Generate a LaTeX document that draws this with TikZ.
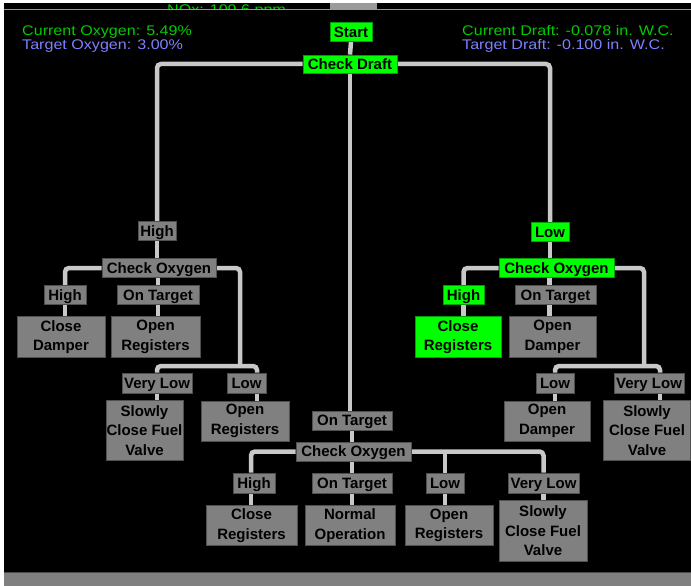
\documentclass[tikz,border=0pt]{standalone}
\usepackage{fontspec}
\setmainfont{Liberation Sans}
\usetikzlibrary{calc,backgrounds}
\definecolor{wirec}{HTML}{C8C8C8}
\definecolor{boxg}{HTML}{808080}
\definecolor{boxe}{HTML}{505050}
\definecolor{hotg}{HTML}{00FF00}
\definecolor{hote}{HTML}{00A000}
\definecolor{readg}{HTML}{00CC00}
\definecolor{readb}{HTML}{8080FF}
\definecolor{iconc}{HTML}{9A9A9A}
\newcommand{\boxfont}{\bfseries\fontsize{15}{19.5}\selectfont}
\newcommand{\readfont}{\fontsize{14}{14}\selectfont}
\newcommand{\wide}[1]{\scalebox{1.15}[1]{#1}}
\tikzset{
  wire/.style={draw=wirec,line width=4.5pt,rounded corners=4pt},
  tag/.style={fill=boxg,draw=boxe,line width=0.8pt,inner sep=0pt,
    text height=10.8pt,text depth=0.5pt,font=\boxfont},
  act/.style={fill=boxg,draw=boxe,line width=0.8pt,inner sep=0pt,
    align=center,font=\boxfont},
  hot/.style={fill=hotg,draw=hote},
  readout/.style={anchor=base west,inner sep=0pt,font=\readfont},
}

\begin{document}
\begin{tikzpicture}[x=1pt,y=-1pt]
  \useasboundingbox (0,0) rectangle (691,586);
  % readouts
  \node[readout,text=readg] (curO) at (22,36) {\wide{Current Oxygen: 5.49\%}};
  \node[readout,text=readb] (tgtO) at (22,50) {\wide{Target Oxygen: 3.00\%}};
  \node[readout,text=readg] (curD) at (462,36) {\wide{Current Draft: -0.078 in. W.C.}};
  \node[readout,text=readb] (tgtD) at (462,50) {\wide{Target Draft: -0.100 in. W.C.}};
  % top of the tree
  \node[tag,hot,minimum width=42pt,minimum height=19pt] (start) at (351,32) {Start};
  \node[tag,hot,minimum width=94pt,minimum height=18pt] (draft) at (350,64) {Check Draft};
  % draft high
  \node[tag,minimum width=38pt,minimum height=19pt] (hiD) at (157,231) {High};
  \node[tag,minimum width=114pt,minimum height=19pt] (coL) at (159,268) {Check Oxygen};
  \node[tag,minimum width=42pt,minimum height=19pt] (hiL) at (65,295) {High};
  \node[tag,minimum width=82pt,minimum height=19pt] (otL) at (158,295) {On Target};
  \node[act,minimum width=88pt,minimum height=41pt] (cdL) at (61,337) {Close\\Damper};
  \node[act,minimum width=89pt,minimum height=41pt] (orL) at (155.5,337) {Open\\Registers};
  \node[tag,minimum width=70pt,minimum height=20pt] (vlL) at (157,383) {Very Low};
  \node[tag,minimum width=39pt,minimum height=20pt] (lwL) at (246.5,383) {Low};
  \node[act,minimum width=77pt,minimum height=60pt] (sfL) at (144.5,430.5) {Slowly\\Close Fuel\\Valve};
  \node[act,minimum width=88pt,minimum height=40pt] (orL2) at (245,421) {Open\\Registers};
  % draft low
  \node[tag,hot,minimum width=38pt,minimum height=19pt] (loD) at (550,232) {Low};
  \node[tag,hot,minimum width=115pt,minimum height=19pt] (coR) at (556.5,268) {Check Oxygen};
  \node[tag,hot,minimum width=41pt,minimum height=19pt] (hiR) at (463.5,295) {High};
  \node[tag,minimum width=81pt,minimum height=19pt] (otR) at (555.5,295) {On Target};
  \node[act,hot,minimum width=86pt,minimum height=41pt] (crR) at (458,337) {Close\\Registers};
  \node[act,minimum width=87pt,minimum height=41pt] (odR) at (552.5,337) {Open\\Damper};
  \node[tag,minimum width=38pt,minimum height=20pt] (lwR) at (555,383) {Low};
  \node[tag,minimum width=70pt,minimum height=20pt] (vlR) at (649,383) {Very Low};
  \node[act,minimum width=86pt,minimum height=40pt] (odR2) at (547,421) {Open\\Damper};
  \node[act,minimum width=87pt,minimum height=60pt] (sfR) at (647,430.5) {Slowly\\Close Fuel\\Valve};
  % draft on target
  \node[tag,minimum width=80pt,minimum height=19pt] (otD) at (352,420.5) {On Target};
  \node[tag,minimum width=115pt,minimum height=19pt] (coM) at (353.5,451.5) {Check Oxygen};
  \node[tag,minimum width=42pt,minimum height=20pt] (hiM) at (254,483) {High};
  \node[tag,minimum width=80pt,minimum height=20pt] (otM) at (352,483) {On Target};
  \node[tag,minimum width=38pt,minimum height=20pt] (lwM) at (445,483) {Low};
  \node[tag,minimum width=71pt,minimum height=20pt] (vlM) at (543.5,483) {Very Low};
  \node[act,minimum width=91pt,minimum height=40pt] (crM) at (251.5,525.5) {Close\\Registers};
  \node[act,minimum width=90pt,minimum height=40pt] (noM) at (350,525.5) {Normal\\Operation};
  \node[act,minimum width=88pt,minimum height=40pt] (orM) at (449,525.5) {Open\\Registers};
  \node[act,minimum width=88pt,minimum height=61pt] (sfM) at (543,531) {Slowly\\Close Fuel\\Valve};
  \coordinate (bL) at (240,366);
  \coordinate (bR) at (644,366);

  \begin{scope}[on background layer]
    \fill[white] (0,0) rectangle (691,586);
    \fill[black] (4,3) rectangle (691,572);
    \fill[boxg] (4,572) rectangle (691,586);
    \draw[black!70,line width=1pt] (4,572.5) -- (691,572.5);
    \begin{scope}
      \clip (4,3) rectangle (691,9.5);
      \node[readout,text=readg] (nox) at (167,15) {\wide{NOx: 109.6 ppm}};
      \fill[iconc] (330,3) rectangle (377,9.5);
    \end{scope}
    \draw[gray!80,line width=1pt] (4,10) -- (691,10);
    % connectors
    \draw[wire] (start.south) -- (draft.north);
    \draw[wire] (draft.west) -| (hiD.north);
    \draw[wire] (draft.east) -| (loD.north);
    \draw[wire] (draft.south) -- (draft.south |- otD.north);
    \draw[wire] (hiD.south) -- (hiD.south |- coL.north);
    \draw[wire] (coL.west) -| (hiL.north);
    \draw[wire] (otL.north) -- (otL.north |- coL.south);
    \draw[wire] (coL.east) -| (bL);
    \draw[wire] (vlL.north) |- (bL) -| ([xshift=10.5pt]lwL.north);
    \draw[wire] (hiL.south) -- (hiL.south |- cdL.north);
    \draw[wire] (otL.south) -- (otL.south |- orL.north);
    \draw[wire] (vlL.south) -- (vlL.south |- sfL.north);
    \draw[wire] ([xshift=10.5pt]lwL.south) -- ([xshift=10.5pt]lwL.south |- orL2.north);
    \draw[wire] (loD.south) -- (loD.south |- coR.north);
    \draw[wire] (coR.west) -| (hiR.north);
    \draw[wire] ([xshift=-6pt]otR.north) -- ([xshift=-6pt]otR.north |- coR.south);
    \draw[wire] (coR.east) -| (bR);
    \draw[wire] (lwR.north) |- (bR) -| ([xshift=11pt]vlR.north);
    \draw[wire] (hiR.south) -- (hiR.south |- crR.north);
    \draw[wire] ([xshift=-6pt]otR.south) -- ([xshift=-6pt]otR.south |- odR.north);
    \draw[wire] (lwR.south) -- (lwR.south |- odR2.north);
    \draw[wire] ([xshift=11pt]vlR.south) -- ([xshift=11pt]vlR.south |- sfR.north);
    \draw[wire] (otD.south) -- (otD.south |- coM.north);
    \draw[wire] (coM.west) -| ([xshift=-3pt]hiM.north);
    \draw[wire] (otM.north) -- (otM.north |- coM.south);
    \draw[wire] (coM.east) -| (vlM.north);
    \draw[wire] (lwM.north) -- (lwM.north |- coM.east);
    \draw[wire] ([xshift=-3pt]hiM.south) -- ([xshift=-3pt]hiM.south |- crM.north);
    \draw[wire] (otM.south) -- (otM.south |- noM.north);
    \draw[wire] (lwM.south) -- (lwM.south |- orM.north);
    \draw[wire] (vlM.south) -- (vlM.south |- sfM.north);
  \end{scope}
\end{tikzpicture}
\end{document}
